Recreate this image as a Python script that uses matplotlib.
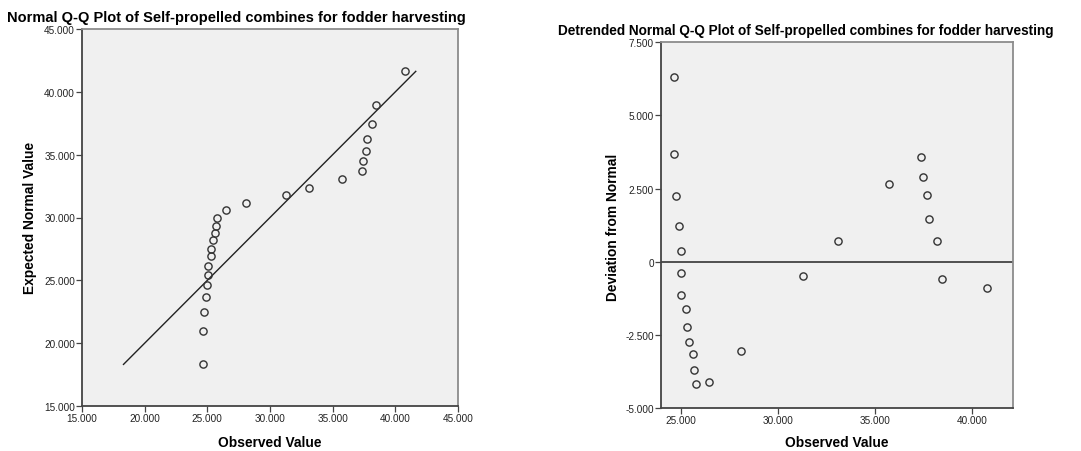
import matplotlib
matplotlib.use('Agg')
import matplotlib.pyplot as plt
import numpy as np

plt.rcParams['font.family'] = ['Liberation Sans', 'DejaVu Sans']

# values
observed = [24.66, 24.66, 24.77, 24.90, 24.99, 25.04, 25.04, 25.28, 25.31, 25.43,
            25.62, 25.70, 25.78, 26.47, 28.09, 31.30, 33.10, 35.74, 37.36, 37.44,
            37.65, 37.76, 38.16, 38.43, 40.75]
expected = [18.31, 20.96, 22.50, 23.66, 24.62, 25.44, 26.18, 26.90, 27.53, 28.17,
            28.78, 29.36, 29.97, 30.56, 31.16, 31.77, 32.38, 33.05, 33.74, 34.50,
            35.33, 36.28, 37.45, 38.98, 41.63]
deviation = [6.32, 3.68, 2.26, 1.23, 0.36, -0.40, -1.15, -1.62, -2.24, -2.76,
             -3.17, -3.69, -4.18, -4.10, -3.06, -0.49, 0.70, 2.67, 3.58, 2.91,
             2.29, 1.45, 0.70, -0.58, -0.90]

qq_ticks = [15, 20, 25, 30, 35, 40, 45]
det_xticks = [25, 30, 35, 40]
det_yticks = [-5, -2.5, 0, 2.5, 5, 7.5]

title_qq = 'Normal Q-Q Plot of Self-propelled combines for fodder harvesting'
title_det = 'Detrended Normal Q-Q Plot of Self-propelled combines for fodder harvesting'

W, H = 1081, 452
fig = plt.figure(figsize=(W / 100, H / 100), dpi=100)

bg = '#f0f0f0'


def fmt(v):
    if v == 0:
        return '0'
    return '%.3f' % v


def style_axes(ax):
    ax.set_facecolor(bg)
    for s in ['left', 'bottom']:
        ax.spines[s].set_color('#444444')
        ax.spines[s].set_linewidth(1.3)
    for s in ['top', 'right']:
        ax.spines[s].set_color('#8c8c8c')
        ax.spines[s].set_linewidth(1.3)
    ax.tick_params(direction='out', length=4, width=0.9, color='#444444',
                   labelsize=7.2, labelcolor='#222222', pad=1)
    ax.tick_params(top=False, right=False)


def px(x0, y0, x1, y1):
    # pixel box -> figure fraction
    return [x0 / W, 1 - y1 / H, (x1 - x0) / W, (y1 - y0) / H]


circ = dict(marker='o', linestyle='none', markersize=5.2, markerfacecolor='none',
            markeredgecolor='#333333', markeredgewidth=1.0)

# --- Normal Q-Q plot
ax1 = fig.add_axes(px(82, 30, 458, 407))
style_axes(ax1)
ax1.plot([min(expected), max(expected)], [min(expected), max(expected)],
         color='#222222', lw=1.0)
ax1.plot(observed, expected, **circ)
ax1.set_xlim(15, 45)
ax1.set_ylim(15, 45)
ax1.set_xticks(qq_ticks)
ax1.set_yticks(qq_ticks)
ax1.set_xticklabels([fmt(t) for t in qq_ticks])
ax1.set_yticklabels([fmt(t) for t in qq_ticks])

fig.text(236 / W, 1 - 18 / H, title_qq, ha='center', va='center',
         fontsize=10.5, fontweight='bold')
fig.text(30 / W, 1 - 218 / H, 'Expected Normal Value', rotation=90,
         ha='center', va='center', fontsize=9.9, fontweight='bold')
fig.text(270 / W, 1 - 443 / H, 'Observed Value', ha='center', va='center',
         fontsize=9.9, fontweight='bold')

# --- Detrended Normal Q-Q plot
ax2 = fig.add_axes(px(660.7, 43.3, 1012.7, 409))
style_axes(ax2)
ax2.axhline(0, color='#444444', lw=1.3)
ax2.plot(observed, deviation, **circ)
ax2.set_xlim(23.97, 42.08)
ax2.set_ylim(-5, 7.5)
ax2.set_xticks(det_xticks)
ax2.set_yticks(det_yticks)
ax2.set_xticklabels([fmt(t) for t in det_xticks])
ax2.set_yticklabels([fmt(t) for t in det_yticks])

fig.text(806 / W, 1 - 31 / H, title_det, ha='center', va='center',
         fontsize=9.85, fontweight='bold')
fig.text(613 / W, 1 - 227 / H, 'Deviation from Normal', rotation=90,
         ha='center', va='center', fontsize=9.9, fontweight='bold')
fig.text(837 / W, 1 - 443 / H, 'Observed Value', ha='center', va='center',
         fontsize=9.9, fontweight='bold')

fig.savefig('out.png', dpi=100, facecolor='white')
